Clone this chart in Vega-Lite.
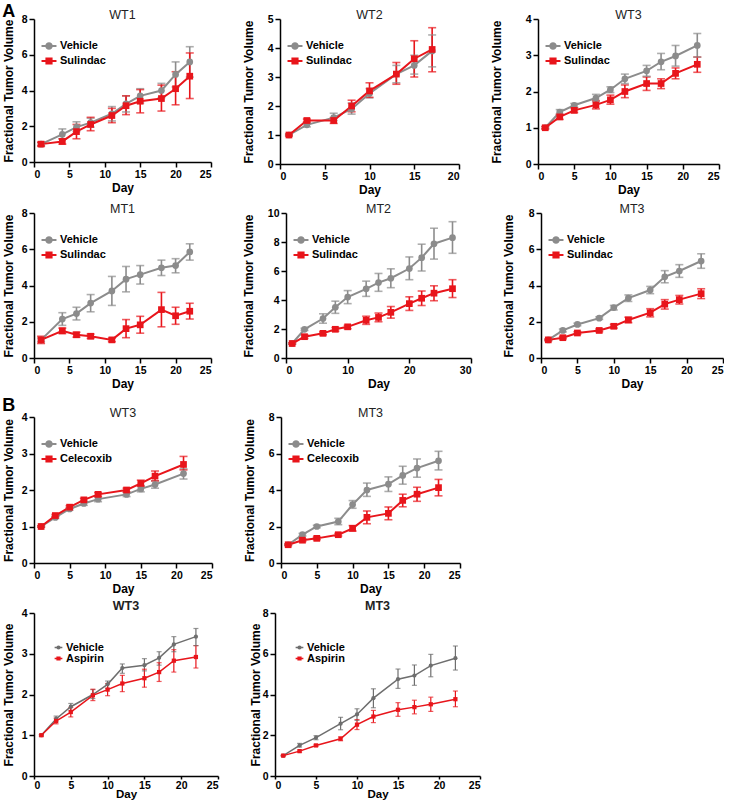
{
"$schema":"https://vega.github.io/schema/vega-lite/v6.json",
"padding":{"left":2,"top":2,"right":0,"bottom":0},
"datasets":{"t":[
{"panel":"A-WT1","series":"Vehicle","day":1,"mean":1.0,"lo":0.9,"hi":1.1},
{"panel":"A-WT1","series":"Vehicle","day":4,"mean":1.55,"lo":1.3,"hi":1.85},
{"panel":"A-WT1","series":"Vehicle","day":6,"mean":1.95,"lo":1.7,"hi":2.25},
{"panel":"A-WT1","series":"Vehicle","day":8,"mean":2.2,"lo":1.95,"hi":2.45},
{"panel":"A-WT1","series":"Vehicle","day":11,"mean":2.7,"lo":2.3,"hi":3.1},
{"panel":"A-WT1","series":"Vehicle","day":13,"mean":3.25,"lo":2.8,"hi":3.7},
{"panel":"A-WT1","series":"Vehicle","day":15,"mean":3.7,"lo":3.3,"hi":4.1},
{"panel":"A-WT1","series":"Vehicle","day":18,"mean":4.0,"lo":3.6,"hi":4.4},
{"panel":"A-WT1","series":"Vehicle","day":20,"mean":4.9,"lo":4.2,"hi":5.6},
{"panel":"A-WT1","series":"Vehicle","day":22,"mean":5.6,"lo":4.75,"hi":6.45},
{"panel":"A-WT1","series":"Sulindac","day":1,"mean":1.0,"lo":0.9,"hi":1.1},
{"panel":"A-WT1","series":"Sulindac","day":4,"mean":1.15,"lo":1.0,"hi":1.3},
{"panel":"A-WT1","series":"Sulindac","day":6,"mean":1.7,"lo":1.3,"hi":2.1},
{"panel":"A-WT1","series":"Sulindac","day":8,"mean":2.1,"lo":1.75,"hi":2.5},
{"panel":"A-WT1","series":"Sulindac","day":11,"mean":2.6,"lo":2.2,"hi":3.0},
{"panel":"A-WT1","series":"Sulindac","day":13,"mean":3.15,"lo":2.65,"hi":3.7},
{"panel":"A-WT1","series":"Sulindac","day":15,"mean":3.4,"lo":2.75,"hi":4.05},
{"panel":"A-WT1","series":"Sulindac","day":18,"mean":3.55,"lo":2.85,"hi":4.3},
{"panel":"A-WT1","series":"Sulindac","day":20,"mean":4.1,"lo":3.2,"hi":5.05},
{"panel":"A-WT1","series":"Sulindac","day":22,"mean":4.8,"lo":3.55,"hi":6.1},
{"panel":"A-WT2","series":"Vehicle","day":1,"mean":1.0,"lo":0.97,"hi":1.03},
{"panel":"A-WT2","series":"Vehicle","day":3,"mean":1.35,"lo":1.28,"hi":1.42},
{"panel":"A-WT2","series":"Vehicle","day":6,"mean":1.6,"lo":1.5,"hi":1.75},
{"panel":"A-WT2","series":"Vehicle","day":8,"mean":1.9,"lo":1.72,"hi":2.1},
{"panel":"A-WT2","series":"Vehicle","day":10,"mean":2.43,"lo":2.28,"hi":2.6},
{"panel":"A-WT2","series":"Vehicle","day":13,"mean":3.1,"lo":2.8,"hi":3.4},
{"panel":"A-WT2","series":"Vehicle","day":15,"mean":3.4,"lo":3.1,"hi":3.75},
{"panel":"A-WT2","series":"Vehicle","day":17,"mean":3.9,"lo":3.35,"hi":4.45},
{"panel":"A-WT2","series":"Sulindac","day":1,"mean":1.0,"lo":0.97,"hi":1.03},
{"panel":"A-WT2","series":"Sulindac","day":3,"mean":1.5,"lo":1.45,"hi":1.55},
{"panel":"A-WT2","series":"Sulindac","day":6,"mean":1.5,"lo":1.4,"hi":1.6},
{"panel":"A-WT2","series":"Sulindac","day":8,"mean":2.0,"lo":1.8,"hi":2.2},
{"panel":"A-WT2","series":"Sulindac","day":10,"mean":2.52,"lo":2.3,"hi":2.8},
{"panel":"A-WT2","series":"Sulindac","day":13,"mean":3.1,"lo":2.75,"hi":3.5},
{"panel":"A-WT2","series":"Sulindac","day":15,"mean":3.63,"lo":3.0,"hi":4.25},
{"panel":"A-WT2","series":"Sulindac","day":17,"mean":3.95,"lo":3.18,"hi":4.7},
{"panel":"A-WT3","series":"Vehicle","day":1,"mean":1.0,"lo":0.97,"hi":1.03},
{"panel":"A-WT3","series":"Vehicle","day":3,"mean":1.43,"lo":1.37,"hi":1.5},
{"panel":"A-WT3","series":"Vehicle","day":5,"mean":1.62,"lo":1.57,"hi":1.67},
{"panel":"A-WT3","series":"Vehicle","day":8,"mean":1.82,"lo":1.72,"hi":1.92},
{"panel":"A-WT3","series":"Vehicle","day":10,"mean":2.05,"lo":1.97,"hi":2.13},
{"panel":"A-WT3","series":"Vehicle","day":12,"mean":2.35,"lo":2.22,"hi":2.48},
{"panel":"A-WT3","series":"Vehicle","day":15,"mean":2.57,"lo":2.42,"hi":2.72},
{"panel":"A-WT3","series":"Vehicle","day":17,"mean":2.82,"lo":2.6,"hi":3.05},
{"panel":"A-WT3","series":"Vehicle","day":19,"mean":2.98,"lo":2.7,"hi":3.27},
{"panel":"A-WT3","series":"Vehicle","day":22,"mean":3.27,"lo":2.95,"hi":3.6},
{"panel":"A-WT3","series":"Sulindac","day":1,"mean":1.0,"lo":0.97,"hi":1.03},
{"panel":"A-WT3","series":"Sulindac","day":3,"mean":1.3,"lo":1.23,"hi":1.37},
{"panel":"A-WT3","series":"Sulindac","day":5,"mean":1.48,"lo":1.42,"hi":1.55},
{"panel":"A-WT3","series":"Sulindac","day":8,"mean":1.63,"lo":1.52,"hi":1.75},
{"panel":"A-WT3","series":"Sulindac","day":10,"mean":1.77,"lo":1.65,"hi":1.9},
{"panel":"A-WT3","series":"Sulindac","day":12,"mean":2.0,"lo":1.83,"hi":2.18},
{"panel":"A-WT3","series":"Sulindac","day":15,"mean":2.22,"lo":2.03,"hi":2.4},
{"panel":"A-WT3","series":"Sulindac","day":17,"mean":2.22,"lo":2.08,"hi":2.35},
{"panel":"A-WT3","series":"Sulindac","day":19,"mean":2.5,"lo":2.35,"hi":2.65},
{"panel":"A-WT3","series":"Sulindac","day":22,"mean":2.75,"lo":2.53,"hi":2.95},
{"panel":"A-MT1","series":"Vehicle","day":1,"mean":1.0,"lo":0.9,"hi":1.1},
{"panel":"A-MT1","series":"Vehicle","day":4,"mean":2.15,"lo":1.8,"hi":2.5},
{"panel":"A-MT1","series":"Vehicle","day":6,"mean":2.45,"lo":2.1,"hi":2.8},
{"panel":"A-MT1","series":"Vehicle","day":8,"mean":3.03,"lo":2.55,"hi":3.5},
{"panel":"A-MT1","series":"Vehicle","day":11,"mean":3.7,"lo":2.9,"hi":4.5},
{"panel":"A-MT1","series":"Vehicle","day":13,"mean":4.35,"lo":3.65,"hi":5.05},
{"panel":"A-MT1","series":"Vehicle","day":15,"mean":4.6,"lo":4.08,"hi":5.1},
{"panel":"A-MT1","series":"Vehicle","day":18,"mean":4.98,"lo":4.55,"hi":5.4},
{"panel":"A-MT1","series":"Vehicle","day":20,"mean":5.1,"lo":4.7,"hi":5.48},
{"panel":"A-MT1","series":"Vehicle","day":22,"mean":5.85,"lo":5.4,"hi":6.3},
{"panel":"A-MT1","series":"Sulindac","day":1,"mean":1.0,"lo":0.8,"hi":1.2},
{"panel":"A-MT1","series":"Sulindac","day":4,"mean":1.5,"lo":1.35,"hi":1.65},
{"panel":"A-MT1","series":"Sulindac","day":6,"mean":1.28,"lo":1.15,"hi":1.42},
{"panel":"A-MT1","series":"Sulindac","day":8,"mean":1.2,"lo":1.08,"hi":1.32},
{"panel":"A-MT1","series":"Sulindac","day":11,"mean":1.0,"lo":0.9,"hi":1.1},
{"panel":"A-MT1","series":"Sulindac","day":13,"mean":1.62,"lo":1.12,"hi":2.12},
{"panel":"A-MT1","series":"Sulindac","day":15,"mean":1.83,"lo":1.37,"hi":2.3},
{"panel":"A-MT1","series":"Sulindac","day":18,"mean":2.67,"lo":1.72,"hi":3.62},
{"panel":"A-MT1","series":"Sulindac","day":20,"mean":2.33,"lo":1.86,"hi":2.8},
{"panel":"A-MT1","series":"Sulindac","day":22,"mean":2.58,"lo":2.15,"hi":3.02},
{"panel":"A-MT2","series":"Vehicle","day":1,"mean":1.0,"lo":0.95,"hi":1.05},
{"panel":"A-MT2","series":"Vehicle","day":3,"mean":1.98,"lo":1.9,"hi":2.05},
{"panel":"A-MT2","series":"Vehicle","day":6,"mean":2.72,"lo":2.4,"hi":3.05},
{"panel":"A-MT2","series":"Vehicle","day":8,"mean":3.5,"lo":3.08,"hi":3.92},
{"panel":"A-MT2","series":"Vehicle","day":10,"mean":4.2,"lo":3.75,"hi":4.65},
{"panel":"A-MT2","series":"Vehicle","day":13,"mean":4.77,"lo":4.25,"hi":5.3},
{"panel":"A-MT2","series":"Vehicle","day":15,"mean":5.2,"lo":4.6,"hi":5.83},
{"panel":"A-MT2","series":"Vehicle","day":17,"mean":5.5,"lo":4.85,"hi":6.15},
{"panel":"A-MT2","series":"Vehicle","day":20,"mean":6.17,"lo":5.4,"hi":6.97},
{"panel":"A-MT2","series":"Vehicle","day":22,"mean":6.92,"lo":6.0,"hi":7.85},
{"panel":"A-MT2","series":"Vehicle","day":24,"mean":7.88,"lo":6.82,"hi":8.95},
{"panel":"A-MT2","series":"Vehicle","day":27,"mean":8.3,"lo":7.22,"hi":9.4},
{"panel":"A-MT2","series":"Sulindac","day":1,"mean":1.0,"lo":0.95,"hi":1.05},
{"panel":"A-MT2","series":"Sulindac","day":3,"mean":1.47,"lo":1.35,"hi":1.6},
{"panel":"A-MT2","series":"Sulindac","day":6,"mean":1.7,"lo":1.6,"hi":1.8},
{"panel":"A-MT2","series":"Sulindac","day":8,"mean":1.98,"lo":1.85,"hi":2.1},
{"panel":"A-MT2","series":"Sulindac","day":10,"mean":2.15,"lo":2.02,"hi":2.25},
{"panel":"A-MT2","series":"Sulindac","day":13,"mean":2.6,"lo":2.32,"hi":2.88},
{"panel":"A-MT2","series":"Sulindac","day":15,"mean":2.8,"lo":2.5,"hi":3.1},
{"panel":"A-MT2","series":"Sulindac","day":17,"mean":3.15,"lo":2.75,"hi":3.55},
{"panel":"A-MT2","series":"Sulindac","day":20,"mean":3.75,"lo":3.28,"hi":4.22},
{"panel":"A-MT2","series":"Sulindac","day":22,"mean":4.12,"lo":3.62,"hi":4.62},
{"panel":"A-MT2","series":"Sulindac","day":24,"mean":4.47,"lo":3.95,"hi":4.98},
{"panel":"A-MT2","series":"Sulindac","day":27,"mean":4.78,"lo":4.17,"hi":5.4},
{"panel":"A-MT3","series":"Vehicle","day":1,"mean":1.0,"lo":0.96,"hi":1.04},
{"panel":"A-MT3","series":"Vehicle","day":3,"mean":1.52,"lo":1.44,"hi":1.6},
{"panel":"A-MT3","series":"Vehicle","day":5,"mean":1.85,"lo":1.78,"hi":1.92},
{"panel":"A-MT3","series":"Vehicle","day":8,"mean":2.2,"lo":2.13,"hi":2.27},
{"panel":"A-MT3","series":"Vehicle","day":10,"mean":2.78,"lo":2.65,"hi":2.9},
{"panel":"A-MT3","series":"Vehicle","day":12,"mean":3.3,"lo":3.12,"hi":3.48},
{"panel":"A-MT3","series":"Vehicle","day":15,"mean":3.75,"lo":3.55,"hi":3.95},
{"panel":"A-MT3","series":"Vehicle","day":17,"mean":4.48,"lo":4.15,"hi":4.82},
{"panel":"A-MT3","series":"Vehicle","day":19,"mean":4.8,"lo":4.45,"hi":5.15},
{"panel":"A-MT3","series":"Vehicle","day":22,"mean":5.35,"lo":4.95,"hi":5.75},
{"panel":"A-MT3","series":"Sulindac","day":1,"mean":1.0,"lo":0.96,"hi":1.04},
{"panel":"A-MT3","series":"Sulindac","day":3,"mean":1.12,"lo":1.06,"hi":1.18},
{"panel":"A-MT3","series":"Sulindac","day":5,"mean":1.38,"lo":1.31,"hi":1.45},
{"panel":"A-MT3","series":"Sulindac","day":8,"mean":1.52,"lo":1.45,"hi":1.6},
{"panel":"A-MT3","series":"Sulindac","day":10,"mean":1.75,"lo":1.65,"hi":1.85},
{"panel":"A-MT3","series":"Sulindac","day":12,"mean":2.1,"lo":1.95,"hi":2.25},
{"panel":"A-MT3","series":"Sulindac","day":15,"mean":2.5,"lo":2.27,"hi":2.72},
{"panel":"A-MT3","series":"Sulindac","day":17,"mean":2.97,"lo":2.7,"hi":3.22},
{"panel":"A-MT3","series":"Sulindac","day":19,"mean":3.22,"lo":2.98,"hi":3.45},
{"panel":"A-MT3","series":"Sulindac","day":22,"mean":3.55,"lo":3.28,"hi":3.82},
{"panel":"B-WT3C","series":"Vehicle","day":1,"mean":1.0,"lo":0.98,"hi":1.02},
{"panel":"B-WT3C","series":"Vehicle","day":3,"mean":1.25,"lo":1.22,"hi":1.28},
{"panel":"B-WT3C","series":"Vehicle","day":5,"mean":1.48,"lo":1.45,"hi":1.52},
{"panel":"B-WT3C","series":"Vehicle","day":7,"mean":1.63,"lo":1.58,"hi":1.68},
{"panel":"B-WT3C","series":"Vehicle","day":9,"mean":1.75,"lo":1.68,"hi":1.8},
{"panel":"B-WT3C","series":"Vehicle","day":13,"mean":1.88,"lo":1.82,"hi":1.93},
{"panel":"B-WT3C","series":"Vehicle","day":15,"mean":2.03,"lo":1.95,"hi":2.12},
{"panel":"B-WT3C","series":"Vehicle","day":17,"mean":2.15,"lo":2.05,"hi":2.25},
{"panel":"B-WT3C","series":"Vehicle","day":21,"mean":2.45,"lo":2.3,"hi":2.58},
{"panel":"B-WT3C","series":"Celecoxib","day":1,"mean":1.0,"lo":0.98,"hi":1.02},
{"panel":"B-WT3C","series":"Celecoxib","day":3,"mean":1.3,"lo":1.27,"hi":1.33},
{"panel":"B-WT3C","series":"Celecoxib","day":5,"mean":1.53,"lo":1.5,"hi":1.57},
{"panel":"B-WT3C","series":"Celecoxib","day":7,"mean":1.73,"lo":1.69,"hi":1.77},
{"panel":"B-WT3C","series":"Celecoxib","day":9,"mean":1.88,"lo":1.83,"hi":1.93},
{"panel":"B-WT3C","series":"Celecoxib","day":13,"mean":2.0,"lo":1.95,"hi":2.05},
{"panel":"B-WT3C","series":"Celecoxib","day":15,"mean":2.18,"lo":2.1,"hi":2.27},
{"panel":"B-WT3C","series":"Celecoxib","day":17,"mean":2.38,"lo":2.25,"hi":2.52},
{"panel":"B-WT3C","series":"Celecoxib","day":21,"mean":2.7,"lo":2.55,"hi":2.92},
{"panel":"B-MT3C","series":"Vehicle","day":1,"mean":1.0,"lo":0.96,"hi":1.04},
{"panel":"B-MT3C","series":"Vehicle","day":3,"mean":1.55,"lo":1.48,"hi":1.62},
{"panel":"B-MT3C","series":"Vehicle","day":5,"mean":2.0,"lo":1.93,"hi":2.07},
{"panel":"B-MT3C","series":"Vehicle","day":8,"mean":2.27,"lo":2.1,"hi":2.45},
{"panel":"B-MT3C","series":"Vehicle","day":10,"mean":3.2,"lo":3.0,"hi":3.42},
{"panel":"B-MT3C","series":"Vehicle","day":12,"mean":4.0,"lo":3.65,"hi":4.38},
{"panel":"B-MT3C","series":"Vehicle","day":15,"mean":4.32,"lo":3.92,"hi":4.72},
{"panel":"B-MT3C","series":"Vehicle","day":17,"mean":4.8,"lo":4.32,"hi":5.3},
{"panel":"B-MT3C","series":"Vehicle","day":19,"mean":5.2,"lo":4.7,"hi":5.7},
{"panel":"B-MT3C","series":"Vehicle","day":22,"mean":5.6,"lo":5.1,"hi":6.12},
{"panel":"B-MT3C","series":"Celecoxib","day":1,"mean":1.0,"lo":0.96,"hi":1.04},
{"panel":"B-MT3C","series":"Celecoxib","day":3,"mean":1.25,"lo":1.18,"hi":1.32},
{"panel":"B-MT3C","series":"Celecoxib","day":5,"mean":1.35,"lo":1.28,"hi":1.42},
{"panel":"B-MT3C","series":"Celecoxib","day":8,"mean":1.55,"lo":1.48,"hi":1.62},
{"panel":"B-MT3C","series":"Celecoxib","day":10,"mean":1.9,"lo":1.75,"hi":2.05},
{"panel":"B-MT3C","series":"Celecoxib","day":12,"mean":2.5,"lo":2.15,"hi":2.85},
{"panel":"B-MT3C","series":"Celecoxib","day":15,"mean":2.72,"lo":2.37,"hi":3.07},
{"panel":"B-MT3C","series":"Celecoxib","day":17,"mean":3.43,"lo":3.08,"hi":3.77},
{"panel":"B-MT3C","series":"Celecoxib","day":19,"mean":3.77,"lo":3.38,"hi":4.15},
{"panel":"B-MT3C","series":"Celecoxib","day":22,"mean":4.13,"lo":3.68,"hi":4.58},
{"panel":"B-WT3A","series":"Vehicle","day":1,"mean":1.0,"lo":0.98,"hi":1.02},
{"panel":"B-WT3A","series":"Vehicle","day":3,"mean":1.4,"lo":1.33,"hi":1.47},
{"panel":"B-WT3A","series":"Vehicle","day":5,"mean":1.7,"lo":1.6,"hi":1.78},
{"panel":"B-WT3A","series":"Vehicle","day":8,"mean":2.0,"lo":1.9,"hi":2.12},
{"panel":"B-WT3A","series":"Vehicle","day":10,"mean":2.25,"lo":2.15,"hi":2.33},
{"panel":"B-WT3A","series":"Vehicle","day":12,"mean":2.65,"lo":2.52,"hi":2.75},
{"panel":"B-WT3A","series":"Vehicle","day":15,"mean":2.72,"lo":2.58,"hi":2.88},
{"panel":"B-WT3A","series":"Vehicle","day":17,"mean":2.9,"lo":2.72,"hi":3.05},
{"panel":"B-WT3A","series":"Vehicle","day":19,"mean":3.23,"lo":3.05,"hi":3.42},
{"panel":"B-WT3A","series":"Vehicle","day":22,"mean":3.42,"lo":3.2,"hi":3.62},
{"panel":"B-WT3A","series":"Aspirin","day":1,"mean":1.0,"lo":0.98,"hi":1.02},
{"panel":"B-WT3A","series":"Aspirin","day":3,"mean":1.35,"lo":1.28,"hi":1.42},
{"panel":"B-WT3A","series":"Aspirin","day":5,"mean":1.57,"lo":1.45,"hi":1.68},
{"panel":"B-WT3A","series":"Aspirin","day":8,"mean":1.98,"lo":1.85,"hi":2.13},
{"panel":"B-WT3A","series":"Aspirin","day":10,"mean":2.12,"lo":1.97,"hi":2.27},
{"panel":"B-WT3A","series":"Aspirin","day":12,"mean":2.27,"lo":2.07,"hi":2.47},
{"panel":"B-WT3A","series":"Aspirin","day":15,"mean":2.4,"lo":2.18,"hi":2.62},
{"panel":"B-WT3A","series":"Aspirin","day":17,"mean":2.55,"lo":2.32,"hi":2.78},
{"panel":"B-WT3A","series":"Aspirin","day":19,"mean":2.83,"lo":2.55,"hi":3.1},
{"panel":"B-WT3A","series":"Aspirin","day":22,"mean":2.92,"lo":2.65,"hi":3.2},
{"panel":"B-MT3A","series":"Vehicle","day":1,"mean":1.0,"lo":0.98,"hi":1.02},
{"panel":"B-MT3A","series":"Vehicle","day":3,"mean":1.5,"lo":1.42,"hi":1.6},
{"panel":"B-MT3A","series":"Vehicle","day":5,"mean":1.88,"lo":1.78,"hi":1.98},
{"panel":"B-MT3A","series":"Vehicle","day":8,"mean":2.57,"lo":2.27,"hi":2.88},
{"panel":"B-MT3A","series":"Vehicle","day":10,"mean":3.02,"lo":2.73,"hi":3.3},
{"panel":"B-MT3A","series":"Vehicle","day":12,"mean":3.82,"lo":3.35,"hi":4.28},
{"panel":"B-MT3A","series":"Vehicle","day":15,"mean":4.75,"lo":4.3,"hi":5.25},
{"panel":"B-MT3A","series":"Vehicle","day":17,"mean":4.93,"lo":4.45,"hi":5.45},
{"panel":"B-MT3A","series":"Vehicle","day":19,"mean":5.42,"lo":4.87,"hi":5.97},
{"panel":"B-MT3A","series":"Vehicle","day":22,"mean":5.78,"lo":5.2,"hi":6.38},
{"panel":"B-MT3A","series":"Aspirin","day":1,"mean":1.0,"lo":0.98,"hi":1.02},
{"panel":"B-MT3A","series":"Aspirin","day":3,"mean":1.22,"lo":1.17,"hi":1.27},
{"panel":"B-MT3A","series":"Aspirin","day":5,"mean":1.5,"lo":1.45,"hi":1.55},
{"panel":"B-MT3A","series":"Aspirin","day":8,"mean":1.83,"lo":1.73,"hi":1.92},
{"panel":"B-MT3A","series":"Aspirin","day":10,"mean":2.52,"lo":2.28,"hi":2.77},
{"panel":"B-MT3A","series":"Aspirin","day":12,"mean":2.92,"lo":2.62,"hi":3.22},
{"panel":"B-MT3A","series":"Aspirin","day":15,"mean":3.25,"lo":2.93,"hi":3.6},
{"panel":"B-MT3A","series":"Aspirin","day":17,"mean":3.38,"lo":3.05,"hi":3.72},
{"panel":"B-MT3A","series":"Aspirin","day":19,"mean":3.52,"lo":3.17,"hi":3.87},
{"panel":"B-MT3A","series":"Aspirin","day":22,"mean":3.77,"lo":3.4,"hi":4.17}
]},
"data":{"name":"t"},
"spacing":6,
"resolve":{"scale":{"fill":"independent","stroke":"independent","shape":"independent"}},
"vconcat":[
{"title":{"text":"A","anchor":"start","fontSize":18,"fontWeight":"bold","color":"#000","offset":-12},
 "spacing":6,
 "resolve":{"scale":{"fill":"independent","stroke":"independent","shape":"independent"}},
 "vconcat":[
 {"spacing":30,"resolve":{"scale":{"fill":"independent","stroke":"independent","shape":"independent"}},
  "hconcat":[
  {"width":177,"height":143,"title":"WT1","transform":[{"filter":"datum.panel==='A-WT1'"}],
   "encoding":{
    "x":{"field":"day","type":"quantitative","title":"Day","scale":{"domain":[0,25]},"axis":{"values":[0,5,10,15,20,25]}},
    "y":{"field":"mean","type":"quantitative","title":"Fractional Tumor Volume","scale":{"domain":[0,8]},"axis":{"values":[0,2,4,6,8],"titlePadding":6}},
    "color":{"condition":{"test":"datum.series==='Vehicle'","value":"#8c8c8c"},"value":"#e8151b"},
    "detail":{"field":"series","type":"nominal"}
   },
   "layer":[
    {"mark":{"type":"rule","strokeWidth":1.6},"encoding":{"y":{"field":"lo","type":"quantitative","title":"Fractional Tumor Volume"},"y2":{"field":"hi"}}},
    {"mark":{"type":"tick","orient":"horizontal","size":8,"thickness":1.6},"encoding":{"y":{"field":"hi","type":"quantitative","title":"Fractional Tumor Volume"}}},
    {"mark":{"type":"tick","orient":"horizontal","size":8,"thickness":1.6},"encoding":{"y":{"field":"lo","type":"quantitative","title":"Fractional Tumor Volume"}}},
    {"mark":{"type":"line","strokeWidth":2},"encoding":{}},
    {"mark":{"type":"point","filled":true,"opacity":1,"size":45},"encoding":{"shape":{"condition":{"test":"datum.series==='Vehicle'","value":"circle"},"value":"square"}}},
    {"transform":[{"filter":"false"}],"mark":{"type":"point","filled":false},
     "encoding":{
      "shape":{"field":"series","type":"nominal","scale":{"domain":["Vehicle","Sulindac"],"range":["M-1.1,0H1.1M0.4,0A0.4,0.4 0 1,1 -0.4,0A0.4,0.4 0 1,1 0.4,0Z","M-1.1,0H1.1M-0.38,-0.38H0.38V0.38H-0.38Z"]},"legend":{"orient":"none","legendX":7,"legendY":19,"title":null}},
      "fill":{"field":"series","type":"nominal","scale":{"domain":["Vehicle","Sulindac"],"range":["#8c8c8c","#e8151b"]},"legend":{"orient":"none","legendX":7,"legendY":19,"title":null}},
      "stroke":{"field":"series","type":"nominal","scale":{"domain":["Vehicle","Sulindac"],"range":["#8c8c8c","#e8151b"]},"legend":{"orient":"none","legendX":7,"legendY":19,"title":null}}
     }}
   ]},
  {"width":179,"height":145,"title":"WT2","transform":[{"filter":"datum.panel==='A-WT2'"}],
   "encoding":{
    "x":{"field":"day","type":"quantitative","title":"Day","scale":{"domain":[0,20]},"axis":{"values":[0,5,10,15,20]}},
    "y":{"field":"mean","type":"quantitative","title":"Fractional Tumor Volume","scale":{"domain":[0,5]},"axis":{"values":[0,1,2,3,4,5],"titlePadding":12}},
    "color":{"condition":{"test":"datum.series==='Vehicle'","value":"#8c8c8c"},"value":"#e8151b"},
    "detail":{"field":"series","type":"nominal"}
   },
   "layer":[
    {"mark":{"type":"rule","strokeWidth":1.6},"encoding":{"y":{"field":"lo","type":"quantitative","title":"Fractional Tumor Volume"},"y2":{"field":"hi"}}},
    {"mark":{"type":"tick","orient":"horizontal","size":8,"thickness":1.6},"encoding":{"y":{"field":"hi","type":"quantitative","title":"Fractional Tumor Volume"}}},
    {"mark":{"type":"tick","orient":"horizontal","size":8,"thickness":1.6},"encoding":{"y":{"field":"lo","type":"quantitative","title":"Fractional Tumor Volume"}}},
    {"mark":{"type":"line","strokeWidth":2},"encoding":{}},
    {"mark":{"type":"point","filled":true,"opacity":1,"size":45},"encoding":{"shape":{"condition":{"test":"datum.series==='Vehicle'","value":"circle"},"value":"square"}}},
    {"transform":[{"filter":"false"}],"mark":{"type":"point","filled":false},
     "encoding":{
      "shape":{"field":"series","type":"nominal","scale":{"domain":["Vehicle","Sulindac"],"range":["M-1.1,0H1.1M0.4,0A0.4,0.4 0 1,1 -0.4,0A0.4,0.4 0 1,1 0.4,0Z","M-1.1,0H1.1M-0.38,-0.38H0.38V0.38H-0.38Z"]},"legend":{"orient":"none","legendX":7,"legendY":19,"title":null}},
      "fill":{"field":"series","type":"nominal","scale":{"domain":["Vehicle","Sulindac"],"range":["#8c8c8c","#e8151b"]},"legend":{"orient":"none","legendX":7,"legendY":19,"title":null}},
      "stroke":{"field":"series","type":"nominal","scale":{"domain":["Vehicle","Sulindac"],"range":["#8c8c8c","#e8151b"]},"legend":{"orient":"none","legendX":7,"legendY":19,"title":null}}
     }}
   ]},
  {"width":181,"height":145,"title":"WT3","transform":[{"filter":"datum.panel==='A-WT3'"}],
   "encoding":{
    "x":{"field":"day","type":"quantitative","title":"Day","scale":{"domain":[0,25]},"axis":{"values":[0,5,10,15,20,25]}},
    "y":{"field":"mean","type":"quantitative","title":"Fractional Tumor Volume","scale":{"domain":[0,4]},"axis":{"values":[0,1,2,3,4],"titlePadding":22}},
    "color":{"condition":{"test":"datum.series==='Vehicle'","value":"#8c8c8c"},"value":"#e8151b"},
    "detail":{"field":"series","type":"nominal"}
   },
   "layer":[
    {"mark":{"type":"rule","strokeWidth":1.6},"encoding":{"y":{"field":"lo","type":"quantitative","title":"Fractional Tumor Volume"},"y2":{"field":"hi"}}},
    {"mark":{"type":"tick","orient":"horizontal","size":8,"thickness":1.6},"encoding":{"y":{"field":"hi","type":"quantitative","title":"Fractional Tumor Volume"}}},
    {"mark":{"type":"tick","orient":"horizontal","size":8,"thickness":1.6},"encoding":{"y":{"field":"lo","type":"quantitative","title":"Fractional Tumor Volume"}}},
    {"mark":{"type":"line","strokeWidth":2},"encoding":{}},
    {"mark":{"type":"point","filled":true,"opacity":1,"size":45},"encoding":{"shape":{"condition":{"test":"datum.series==='Vehicle'","value":"circle"},"value":"square"}}},
    {"transform":[{"filter":"false"}],"mark":{"type":"point","filled":false},
     "encoding":{
      "shape":{"field":"series","type":"nominal","scale":{"domain":["Vehicle","Sulindac"],"range":["M-1.1,0H1.1M0.4,0A0.4,0.4 0 1,1 -0.4,0A0.4,0.4 0 1,1 0.4,0Z","M-1.1,0H1.1M-0.38,-0.38H0.38V0.38H-0.38Z"]},"legend":{"orient":"none","legendX":7,"legendY":19,"title":null}},
      "fill":{"field":"series","type":"nominal","scale":{"domain":["Vehicle","Sulindac"],"range":["#8c8c8c","#e8151b"]},"legend":{"orient":"none","legendX":7,"legendY":19,"title":null}},
      "stroke":{"field":"series","type":"nominal","scale":{"domain":["Vehicle","Sulindac"],"range":["#8c8c8c","#e8151b"]},"legend":{"orient":"none","legendX":7,"legendY":19,"title":null}}
     }}
   ]}
  ]},
 {"spacing":30,"resolve":{"scale":{"fill":"independent","stroke":"independent","shape":"independent"}},
  "hconcat":[
  {"width":177,"height":145,"title":"MT1","transform":[{"filter":"datum.panel==='A-MT1'"}],
   "encoding":{
    "x":{"field":"day","type":"quantitative","title":"Day","scale":{"domain":[0,25]},"axis":{"values":[0,5,10,15,20,25]}},
    "y":{"field":"mean","type":"quantitative","title":"Fractional Tumor Volume","scale":{"domain":[0,8]},"axis":{"values":[0,2,4,6,8],"titlePadding":6}},
    "color":{"condition":{"test":"datum.series==='Vehicle'","value":"#8c8c8c"},"value":"#e8151b"},
    "detail":{"field":"series","type":"nominal"}
   },
   "layer":[
    {"mark":{"type":"rule","strokeWidth":1.6},"encoding":{"y":{"field":"lo","type":"quantitative","title":"Fractional Tumor Volume"},"y2":{"field":"hi"}}},
    {"mark":{"type":"tick","orient":"horizontal","size":8,"thickness":1.6},"encoding":{"y":{"field":"hi","type":"quantitative","title":"Fractional Tumor Volume"}}},
    {"mark":{"type":"tick","orient":"horizontal","size":8,"thickness":1.6},"encoding":{"y":{"field":"lo","type":"quantitative","title":"Fractional Tumor Volume"}}},
    {"mark":{"type":"line","strokeWidth":2},"encoding":{}},
    {"mark":{"type":"point","filled":true,"opacity":1,"size":45},"encoding":{"shape":{"condition":{"test":"datum.series==='Vehicle'","value":"circle"},"value":"square"}}},
    {"transform":[{"filter":"false"}],"mark":{"type":"point","filled":false},
     "encoding":{
      "shape":{"field":"series","type":"nominal","scale":{"domain":["Vehicle","Sulindac"],"range":["M-1.1,0H1.1M0.4,0A0.4,0.4 0 1,1 -0.4,0A0.4,0.4 0 1,1 0.4,0Z","M-1.1,0H1.1M-0.38,-0.38H0.38V0.38H-0.38Z"]},"legend":{"orient":"none","legendX":7,"legendY":19,"title":null}},
      "fill":{"field":"series","type":"nominal","scale":{"domain":["Vehicle","Sulindac"],"range":["#8c8c8c","#e8151b"]},"legend":{"orient":"none","legendX":7,"legendY":19,"title":null}},
      "stroke":{"field":"series","type":"nominal","scale":{"domain":["Vehicle","Sulindac"],"range":["#8c8c8c","#e8151b"]},"legend":{"orient":"none","legendX":7,"legendY":19,"title":null}}
     }}
   ]},
  {"width":185,"height":145,"title":"MT2","transform":[{"filter":"datum.panel==='A-MT2'"}],
   "encoding":{
    "x":{"field":"day","type":"quantitative","title":"Day","scale":{"domain":[0,30]},"axis":{"values":[0,10,20,30]}},
    "y":{"field":"mean","type":"quantitative","title":"Fractional Tumor Volume","scale":{"domain":[0,10]},"axis":{"values":[0,2,4,6,8,10],"titlePadding":12}},
    "color":{"condition":{"test":"datum.series==='Vehicle'","value":"#8c8c8c"},"value":"#e8151b"},
    "detail":{"field":"series","type":"nominal"}
   },
   "layer":[
    {"mark":{"type":"rule","strokeWidth":1.6},"encoding":{"y":{"field":"lo","type":"quantitative","title":"Fractional Tumor Volume"},"y2":{"field":"hi"}}},
    {"mark":{"type":"tick","orient":"horizontal","size":8,"thickness":1.6},"encoding":{"y":{"field":"hi","type":"quantitative","title":"Fractional Tumor Volume"}}},
    {"mark":{"type":"tick","orient":"horizontal","size":8,"thickness":1.6},"encoding":{"y":{"field":"lo","type":"quantitative","title":"Fractional Tumor Volume"}}},
    {"mark":{"type":"line","strokeWidth":2},"encoding":{}},
    {"mark":{"type":"point","filled":true,"opacity":1,"size":45},"encoding":{"shape":{"condition":{"test":"datum.series==='Vehicle'","value":"circle"},"value":"square"}}},
    {"transform":[{"filter":"false"}],"mark":{"type":"point","filled":false},
     "encoding":{
      "shape":{"field":"series","type":"nominal","scale":{"domain":["Vehicle","Sulindac"],"range":["M-1.1,0H1.1M0.4,0A0.4,0.4 0 1,1 -0.4,0A0.4,0.4 0 1,1 0.4,0Z","M-1.1,0H1.1M-0.38,-0.38H0.38V0.38H-0.38Z"]},"legend":{"orient":"none","legendX":7,"legendY":19,"title":null}},
      "fill":{"field":"series","type":"nominal","scale":{"domain":["Vehicle","Sulindac"],"range":["#8c8c8c","#e8151b"]},"legend":{"orient":"none","legendX":7,"legendY":19,"title":null}},
      "stroke":{"field":"series","type":"nominal","scale":{"domain":["Vehicle","Sulindac"],"range":["#8c8c8c","#e8151b"]},"legend":{"orient":"none","legendX":7,"legendY":19,"title":null}}
     }}
   ]},
  {"width":182,"height":145,"title":"MT3","transform":[{"filter":"datum.panel==='A-MT3'"}],
   "encoding":{
    "x":{"field":"day","type":"quantitative","title":"Day","scale":{"domain":[0,25]},"axis":{"values":[0,5,10,15,20,25]}},
    "y":{"field":"mean","type":"quantitative","title":"Fractional Tumor Volume","scale":{"domain":[0,8]},"axis":{"values":[0,2,4,6,8],"titlePadding":13}},
    "color":{"condition":{"test":"datum.series==='Vehicle'","value":"#8c8c8c"},"value":"#e8151b"},
    "detail":{"field":"series","type":"nominal"}
   },
   "layer":[
    {"mark":{"type":"rule","strokeWidth":1.6},"encoding":{"y":{"field":"lo","type":"quantitative","title":"Fractional Tumor Volume"},"y2":{"field":"hi"}}},
    {"mark":{"type":"tick","orient":"horizontal","size":8,"thickness":1.6},"encoding":{"y":{"field":"hi","type":"quantitative","title":"Fractional Tumor Volume"}}},
    {"mark":{"type":"tick","orient":"horizontal","size":8,"thickness":1.6},"encoding":{"y":{"field":"lo","type":"quantitative","title":"Fractional Tumor Volume"}}},
    {"mark":{"type":"line","strokeWidth":2},"encoding":{}},
    {"mark":{"type":"point","filled":true,"opacity":1,"size":45},"encoding":{"shape":{"condition":{"test":"datum.series==='Vehicle'","value":"circle"},"value":"square"}}},
    {"transform":[{"filter":"false"}],"mark":{"type":"point","filled":false},
     "encoding":{
      "shape":{"field":"series","type":"nominal","scale":{"domain":["Vehicle","Sulindac"],"range":["M-1.1,0H1.1M0.4,0A0.4,0.4 0 1,1 -0.4,0A0.4,0.4 0 1,1 0.4,0Z","M-1.1,0H1.1M-0.38,-0.38H0.38V0.38H-0.38Z"]},"legend":{"orient":"none","legendX":7,"legendY":19,"title":null}},
      "fill":{"field":"series","type":"nominal","scale":{"domain":["Vehicle","Sulindac"],"range":["#8c8c8c","#e8151b"]},"legend":{"orient":"none","legendX":7,"legendY":19,"title":null}},
      "stroke":{"field":"series","type":"nominal","scale":{"domain":["Vehicle","Sulindac"],"range":["#8c8c8c","#e8151b"]},"legend":{"orient":"none","legendX":7,"legendY":19,"title":null}}
     }}
   ]}
  ]}
 ]},
{"title":{"text":"B","anchor":"start","fontSize":18,"fontWeight":"bold","color":"#000","offset":-8},
 "spacing":4,
 "resolve":{"scale":{"fill":"independent","stroke":"independent","shape":"independent"}},
 "vconcat":[
 {"spacing":30,"resolve":{"scale":{"fill":"independent","stroke":"independent","shape":"independent"}},
  "hconcat":[
  {"width":178,"height":146,"title":"WT3","transform":[{"filter":"datum.panel==='B-WT3C'"}],
   "encoding":{
    "x":{"field":"day","type":"quantitative","title":"Day","scale":{"domain":[0,25]},"axis":{"values":[0,5,10,15,20,25]}},
    "y":{"field":"mean","type":"quantitative","title":"Fractional Tumor Volume","scale":{"domain":[0,4]},"axis":{"values":[0,1,2,3,4],"titlePadding":6}},
    "color":{"condition":{"test":"datum.series==='Vehicle'","value":"#8c8c8c"},"value":"#e8151b"},
    "detail":{"field":"series","type":"nominal"}
   },
   "layer":[
    {"mark":{"type":"rule","strokeWidth":1.6},"encoding":{"y":{"field":"lo","type":"quantitative","title":"Fractional Tumor Volume"},"y2":{"field":"hi"}}},
    {"mark":{"type":"tick","orient":"horizontal","size":8,"thickness":1.6},"encoding":{"y":{"field":"hi","type":"quantitative","title":"Fractional Tumor Volume"}}},
    {"mark":{"type":"tick","orient":"horizontal","size":8,"thickness":1.6},"encoding":{"y":{"field":"lo","type":"quantitative","title":"Fractional Tumor Volume"}}},
    {"mark":{"type":"line","strokeWidth":2},"encoding":{}},
    {"mark":{"type":"point","filled":true,"opacity":1,"size":45},"encoding":{"shape":{"condition":{"test":"datum.series==='Vehicle'","value":"circle"},"value":"square"}}},
    {"transform":[{"filter":"false"}],"mark":{"type":"point","filled":false},
     "encoding":{
      "shape":{"field":"series","type":"nominal","scale":{"domain":["Vehicle","Celecoxib"],"range":["M-1.1,0H1.1M0.4,0A0.4,0.4 0 1,1 -0.4,0A0.4,0.4 0 1,1 0.4,0Z","M-1.1,0H1.1M-0.38,-0.38H0.38V0.38H-0.38Z"]},"legend":{"orient":"none","legendX":7,"legendY":19,"title":null}},
      "fill":{"field":"series","type":"nominal","scale":{"domain":["Vehicle","Celecoxib"],"range":["#8c8c8c","#e8151b"]},"legend":{"orient":"none","legendX":7,"legendY":19,"title":null}},
      "stroke":{"field":"series","type":"nominal","scale":{"domain":["Vehicle","Celecoxib"],"range":["#8c8c8c","#e8151b"]},"legend":{"orient":"none","legendX":7,"legendY":19,"title":null}}
     }}
   ]},
  {"width":179,"height":146,"title":"MT3","transform":[{"filter":"datum.panel==='B-MT3C'"}],
   "encoding":{
    "x":{"field":"day","type":"quantitative","title":"Day","scale":{"domain":[0,25]},"axis":{"values":[0,5,10,15,20,25]}},
    "y":{"field":"mean","type":"quantitative","title":"Fractional Tumor Volume","scale":{"domain":[0,8]},"axis":{"values":[0,2,4,6,8],"titlePadding":12}},
    "color":{"condition":{"test":"datum.series==='Vehicle'","value":"#8c8c8c"},"value":"#e8151b"},
    "detail":{"field":"series","type":"nominal"}
   },
   "layer":[
    {"mark":{"type":"rule","strokeWidth":1.6},"encoding":{"y":{"field":"lo","type":"quantitative","title":"Fractional Tumor Volume"},"y2":{"field":"hi"}}},
    {"mark":{"type":"tick","orient":"horizontal","size":8,"thickness":1.6},"encoding":{"y":{"field":"hi","type":"quantitative","title":"Fractional Tumor Volume"}}},
    {"mark":{"type":"tick","orient":"horizontal","size":8,"thickness":1.6},"encoding":{"y":{"field":"lo","type":"quantitative","title":"Fractional Tumor Volume"}}},
    {"mark":{"type":"line","strokeWidth":2},"encoding":{}},
    {"mark":{"type":"point","filled":true,"opacity":1,"size":45},"encoding":{"shape":{"condition":{"test":"datum.series==='Vehicle'","value":"circle"},"value":"square"}}},
    {"transform":[{"filter":"false"}],"mark":{"type":"point","filled":false},
     "encoding":{
      "shape":{"field":"series","type":"nominal","scale":{"domain":["Vehicle","Celecoxib"],"range":["M-1.1,0H1.1M0.4,0A0.4,0.4 0 1,1 -0.4,0A0.4,0.4 0 1,1 0.4,0Z","M-1.1,0H1.1M-0.38,-0.38H0.38V0.38H-0.38Z"]},"legend":{"orient":"none","legendX":7,"legendY":19,"title":null}},
      "fill":{"field":"series","type":"nominal","scale":{"domain":["Vehicle","Celecoxib"],"range":["#8c8c8c","#e8151b"]},"legend":{"orient":"none","legendX":7,"legendY":19,"title":null}},
      "stroke":{"field":"series","type":"nominal","scale":{"domain":["Vehicle","Celecoxib"],"range":["#8c8c8c","#e8151b"]},"legend":{"orient":"none","legendX":7,"legendY":19,"title":null}}
     }}
   ]}
  ]},
 {"spacing":30,"resolve":{"scale":{"fill":"independent","stroke":"independent","shape":"independent"}},
  "hconcat":[
  {"width":184,"height":163,"title":{"text":"WT3","fontWeight":"bold","offset":-4},"transform":[{"filter":"datum.panel==='B-WT3A'"}],
   "encoding":{
    "x":{"field":"day","type":"quantitative","title":"Day","scale":{"domain":[0,25]},"axis":{"values":[0,5,10,15,20,25],"titlePadding":-2,"tickSize":3,"labelPadding":1,"titleFontSize":11.5}},
    "y":{"field":"mean","type":"quantitative","title":"Fractional Tumor Volume","scale":{"domain":[0,4]},"axis":{"values":[0,1,2,3,4],"titlePadding":6}},
    "color":{"condition":{"test":"datum.series==='Vehicle'","value":"#6e6e6e"},"value":"#e8151b"},
    "detail":{"field":"series","type":"nominal"}
   },
   "layer":[
    {"mark":{"type":"rule","strokeWidth":1.2},"encoding":{"y":{"field":"lo","type":"quantitative","title":"Fractional Tumor Volume"},"y2":{"field":"hi"}}},
    {"mark":{"type":"tick","orient":"horizontal","size":5,"thickness":1.2},"encoding":{"y":{"field":"hi","type":"quantitative","title":"Fractional Tumor Volume"}}},
    {"mark":{"type":"tick","orient":"horizontal","size":5,"thickness":1.2},"encoding":{"y":{"field":"lo","type":"quantitative","title":"Fractional Tumor Volume"}}},
    {"mark":{"type":"line","strokeWidth":1.5},"encoding":{}},
    {"mark":{"type":"point","filled":true,"opacity":1,"size":18},"encoding":{"shape":{"condition":{"test":"datum.series==='Vehicle'","value":"circle"},"value":"square"}}},
    {"transform":[{"filter":"false"}],"mark":{"type":"point","filled":false},
     "encoding":{
      "shape":{"field":"series","type":"nominal","scale":{"domain":["Vehicle","Aspirin"],"range":["M-1,0H1M0.35,0A0.35,0.35 0 1,1 -0.35,0A0.35,0.35 0 1,1 0.35,0Z","M-1,0H1M-0.35,-0.35H0.35V0.35H-0.35Z"]},"legend":{"orient":"none","legendX":19,"legendY":29,"title":null,"symbolSize":60,"symbolStrokeWidth":1.5,"rowPadding":-8,"labelOffset":2}},
      "fill":{"field":"series","type":"nominal","scale":{"domain":["Vehicle","Aspirin"],"range":["#6e6e6e","#e8151b"]},"legend":{"orient":"none","legendX":19,"legendY":29,"title":null,"symbolSize":60,"symbolStrokeWidth":1.5,"rowPadding":-8,"labelOffset":2}},
      "stroke":{"field":"series","type":"nominal","scale":{"domain":["Vehicle","Aspirin"],"range":["#6e6e6e","#e8151b"]},"legend":{"orient":"none","legendX":19,"legendY":29,"title":null,"symbolSize":60,"symbolStrokeWidth":1.5,"rowPadding":-8,"labelOffset":2}}
     }}
   ]},
  {"width":205,"height":163,"title":{"text":"MT3","fontWeight":"bold","offset":-4},"transform":[{"filter":"datum.panel==='B-MT3A'"}],
   "encoding":{
    "x":{"field":"day","type":"quantitative","title":"Day","scale":{"domain":[0,25]},"axis":{"values":[0,5,10,15,20,25],"titlePadding":-2,"tickSize":3,"labelPadding":1,"titleFontSize":11.5}},
    "y":{"field":"mean","type":"quantitative","title":"Fractional Tumor Volume","scale":{"domain":[0,8]},"axis":{"values":[0,2,4,6,8],"titlePadding":0}},
    "color":{"condition":{"test":"datum.series==='Vehicle'","value":"#6e6e6e"},"value":"#e8151b"},
    "detail":{"field":"series","type":"nominal"}
   },
   "layer":[
    {"mark":{"type":"rule","strokeWidth":1.2},"encoding":{"y":{"field":"lo","type":"quantitative","title":"Fractional Tumor Volume"},"y2":{"field":"hi"}}},
    {"mark":{"type":"tick","orient":"horizontal","size":5,"thickness":1.2},"encoding":{"y":{"field":"hi","type":"quantitative","title":"Fractional Tumor Volume"}}},
    {"mark":{"type":"tick","orient":"horizontal","size":5,"thickness":1.2},"encoding":{"y":{"field":"lo","type":"quantitative","title":"Fractional Tumor Volume"}}},
    {"mark":{"type":"line","strokeWidth":1.5},"encoding":{}},
    {"mark":{"type":"point","filled":true,"opacity":1,"size":18},"encoding":{"shape":{"condition":{"test":"datum.series==='Vehicle'","value":"circle"},"value":"square"}}},
    {"transform":[{"filter":"false"}],"mark":{"type":"point","filled":false},
     "encoding":{
      "shape":{"field":"series","type":"nominal","scale":{"domain":["Vehicle","Aspirin"],"range":["M-1,0H1M0.35,0A0.35,0.35 0 1,1 -0.35,0A0.35,0.35 0 1,1 0.35,0Z","M-1,0H1M-0.35,-0.35H0.35V0.35H-0.35Z"]},"legend":{"orient":"none","legendX":19,"legendY":29,"title":null,"symbolSize":60,"symbolStrokeWidth":1.5,"rowPadding":-8,"labelOffset":2}},
      "fill":{"field":"series","type":"nominal","scale":{"domain":["Vehicle","Aspirin"],"range":["#6e6e6e","#e8151b"]},"legend":{"orient":"none","legendX":19,"legendY":29,"title":null,"symbolSize":60,"symbolStrokeWidth":1.5,"rowPadding":-8,"labelOffset":2}},
      "stroke":{"field":"series","type":"nominal","scale":{"domain":["Vehicle","Aspirin"],"range":["#6e6e6e","#e8151b"]},"legend":{"orient":"none","legendX":19,"legendY":29,"title":null,"symbolSize":60,"symbolStrokeWidth":1.5,"rowPadding":-8,"labelOffset":2}}
     }}
   ]}
  ]}
 ]}
],
"config":{
 "view":{"stroke":null},
 "font":"Liberation Sans",
 "axis":{"grid":false,"domainColor":"#000","domainWidth":1.5,"tickColor":"#000","tickWidth":1.5,"tickSize":5,"labelFont":"Liberation Sans","labelFontSize":10.5,"labelFontWeight":"bold","labelColor":"#000","labelPadding":2,"titleFont":"Liberation Sans","titleFontSize":12,"titleFontWeight":"bold","titleColor":"#000"},
 "axisX":{"titlePadding":3},
 "title":{"font":"Liberation Sans","fontSize":12.5,"fontWeight":"normal","color":"#222","offset":-7},
 "legend":{"labelFont":"Liberation Sans","labelFontSize":11,"labelFontWeight":"bold","labelColor":"#000","symbolSize":185,"symbolStrokeWidth":2,"symbolOpacity":1,"rowPadding":-1,"labelOffset":3,"padding":0}
}
}
